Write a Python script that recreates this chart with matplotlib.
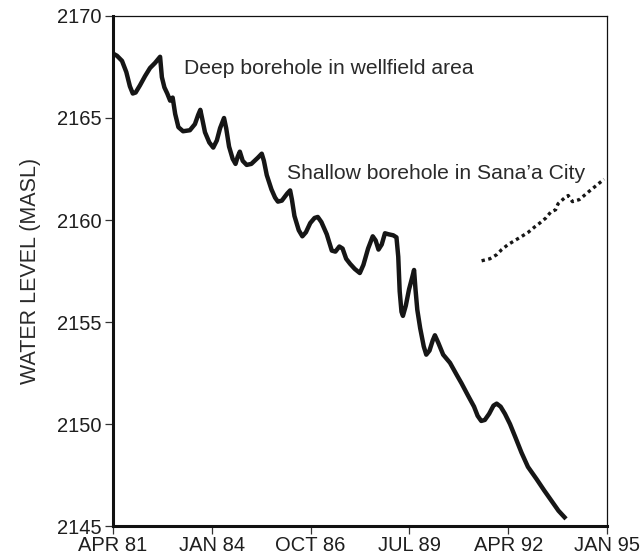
import matplotlib
matplotlib.use("Agg")
import matplotlib.pyplot as plt

plt.rcParams['font.family'] = ['Liberation Sans', 'DejaVu Sans']

# Deep borehole in the wellfield area (decimal year, water level m a.s.l.)
deep_year = [1981.26, 1981.36, 1981.50, 1981.62, 1981.72, 1981.80, 1981.88, 1982.00,
             1982.14, 1982.28, 1982.42, 1982.56, 1982.61, 1982.68, 1982.76, 1982.84,
             1982.91, 1982.98, 1983.07, 1983.20, 1983.39, 1983.53, 1983.62, 1983.68,
             1983.74, 1983.81, 1983.93, 1984.04, 1984.14, 1984.23, 1984.34, 1984.40,
             1984.48, 1984.58, 1984.66, 1984.72, 1984.78, 1984.86, 1984.97, 1985.10,
             1985.28, 1985.39, 1985.45, 1985.53, 1985.66, 1985.76, 1985.84, 1985.95,
             1986.10, 1986.18, 1986.23, 1986.30, 1986.42, 1986.52, 1986.62, 1986.74,
             1986.86, 1986.95, 1987.05, 1987.20, 1987.34, 1987.44, 1987.55, 1987.64,
             1987.74, 1987.85, 1987.98, 1988.12, 1988.22, 1988.35, 1988.48, 1988.56,
             1988.64, 1988.73, 1988.82, 1988.92, 1989.05, 1989.14, 1989.19, 1989.23,
             1989.28, 1989.32, 1989.40, 1989.49, 1989.58, 1989.63, 1989.67, 1989.72,
             1989.80, 1989.90, 1989.97, 1990.06, 1990.15, 1990.21, 1990.30, 1990.44,
             1990.63, 1990.82, 1990.95, 1991.13, 1991.30, 1991.40, 1991.50, 1991.60,
             1991.72, 1991.84, 1991.93, 1992.04, 1992.16, 1992.30, 1992.45, 1992.62,
             1992.80, 1993.04, 1993.25, 1993.45, 1993.65, 1993.86]
deep_level = [2168.15, 2168.05, 2167.8, 2167.25, 2166.55, 2166.2, 2166.25, 2166.6,
              2167.05, 2167.45, 2167.7, 2168.0, 2167.0, 2166.5, 2166.2, 2165.85,
              2166.0, 2165.2, 2164.55, 2164.35, 2164.4, 2164.7, 2165.15, 2165.4,
              2164.9, 2164.3, 2163.8, 2163.55, 2163.9, 2164.5, 2165.0, 2164.5,
              2163.6, 2163.0, 2162.75, 2163.1, 2163.35, 2162.9, 2162.7, 2162.75,
              2163.05, 2163.25, 2162.9, 2162.2, 2161.5, 2161.1, 2160.9, 2160.95,
              2161.3, 2161.45, 2161.0, 2160.2, 2159.5, 2159.2, 2159.4, 2159.85,
              2160.1, 2160.15, 2159.9, 2159.3, 2158.5, 2158.45, 2158.7, 2158.6,
              2158.1, 2157.85, 2157.6, 2157.4, 2157.8, 2158.6, 2159.2, 2159.0,
              2158.55, 2158.8, 2159.35, 2159.3, 2159.25, 2159.15, 2158.2, 2156.5,
              2155.5, 2155.3, 2155.8, 2156.6, 2157.2, 2157.55, 2156.6, 2155.6,
              2154.7, 2153.8, 2153.4, 2153.6, 2154.1, 2154.35, 2154.0, 2153.4,
              2153.0, 2152.4, 2152.0, 2151.4, 2150.85, 2150.4, 2150.15, 2150.2,
              2150.5, 2150.9, 2151.0, 2150.85, 2150.5, 2150.0, 2149.35, 2148.6,
              2147.9, 2147.3, 2146.75, 2146.25, 2145.75, 2145.35]

# Shallow borehole in Sana'a City
shallow_year = [1991.51, 1991.74, 1991.93, 1992.07, 1992.25, 1992.44, 1992.63,
                1992.81, 1992.98, 1993.13, 1993.30, 1993.44, 1993.57, 1993.64,
                1993.83, 1993.92, 1994.04, 1994.23, 1994.50, 1994.78, 1994.92]
shallow_level = [2158.0, 2158.1, 2158.3, 2158.55, 2158.8, 2159.0, 2159.2,
                 2159.4, 2159.65, 2159.85, 2160.1, 2160.4, 2160.5, 2160.8,
                 2161.1, 2161.2, 2160.9, 2161.0, 2161.4, 2161.8, 2162.0]

tick_years = [1981.25, 1984.0, 1986.75, 1989.5, 1992.25, 1995.0]
tick_labels = ['APR 81', 'JAN 84', 'OCT 86', 'JUL 89', 'APR 92', 'JAN 95']
level_ticks = [2145, 2150, 2155, 2160, 2165, 2170]

fig = plt.figure(figsize=(6.44, 5.59), dpi=100)
ax = fig.add_axes([0.1755, 0.0590, 0.767, 0.9124])

ax.plot(deep_year, deep_level, color='#161616', lw=3.2,
        solid_joinstyle='round', solid_capstyle='butt')
ax.plot(shallow_year, shallow_level, color='#161616', lw=2.4,
        linestyle=(0, (1, 1.05)))

ax.set_xlim(1981.25, 1995.0)
ax.set_ylim(2145, 2170)
ax.set_xticks(tick_years)
ax.set_xticklabels(tick_labels)
ax.set_yticks(level_ticks)

for side in ('left', 'bottom'):
    ax.spines[side].set_linewidth(2.2)
    ax.spines[side].set_color('#111111')
for side in ('top', 'right'):
    ax.spines[side].set_linewidth(0.9)
    ax.spines[side].set_color('#111111')

ax.tick_params(axis='both', direction='out', length=6, width=0.9,
               color='#333333', labelsize=14.5, labelcolor='#1e1e1e', pad=2)
ax.tick_params(axis='x', length=6, pad=1.5)

ax.set_ylabel('WATER LEVEL (MASL)', fontsize=15.5, color='#2a2a2a', labelpad=12)

ax.text(1983.23, 2167.45, 'Deep borehole in wellfield area',
        fontsize=15.2, color='#2a2a2a', ha='left', va='center')
ax.text(1986.09, 2162.3, 'Shallow borehole in Sana\u2019a City',
        fontsize=15.2, color='#2a2a2a', ha='left', va='center')

fig.savefig('out.png', dpi=100)
